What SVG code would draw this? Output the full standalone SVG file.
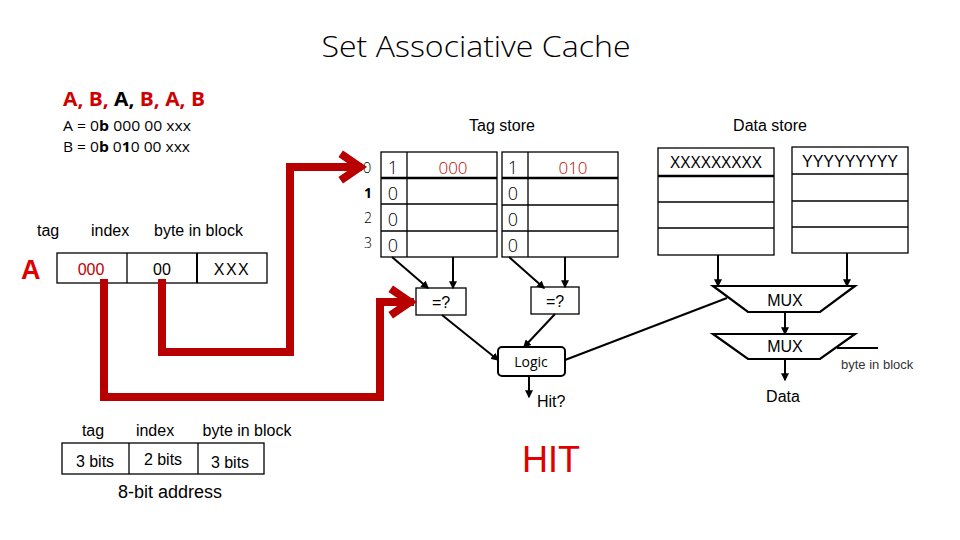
<svg xmlns="http://www.w3.org/2000/svg" width="960" height="540" viewBox="0 0 960 540">
<style>
.ar{font-family:"Liberation Sans",Arial,sans-serif}
.cb{font-family:"Open Sans","Noto Sans",sans-serif}
.box{fill:#fff;stroke:#000;stroke-width:1.3}
.ln{stroke:#000;stroke-width:1.3;fill:none}
.thk{stroke:#000;stroke-width:2.5}
.wire{stroke:#000;stroke-width:2;fill:none}
.red{stroke:#B80000;stroke-width:8;fill:none;stroke-linejoin:miter;stroke-linecap:square}
</style>
<defs>
<marker id="ah" viewBox="0 0 6 6" refX="5" refY="3" markerWidth="4" markerHeight="4" orient="auto">
<path d="M0,0 L6,3 L0,6 z" fill="#000"/>
</marker>
</defs>
<rect width="960" height="540" fill="#fff"/>

<g id="title">
<text x="476" y="57" text-anchor="middle" class="cb" font-size="30" font-weight="300" textLength="309" lengthAdjust="spacingAndGlyphs">Set Associative Cache</text>
</g>

<g id="sequence">
<text x="63" y="106" class="cb" font-size="19" font-weight="700" textLength="142" lengthAdjust="spacingAndGlyphs"><tspan fill="#D00000">A, B, </tspan><tspan fill="#000">A, </tspan><tspan fill="#D00000">B, A, B</tspan></text>
<text x="63" y="131" class="cb" font-size="14" textLength="128" lengthAdjust="spacingAndGlyphs">A = 0<tspan font-weight="700">b</tspan> 000 00 xxx</text>
<text x="63" y="152" class="cb" font-size="14" textLength="127" lengthAdjust="spacingAndGlyphs">B = 0<tspan font-weight="700">b</tspan> 0<tspan font-weight="700">1</tspan>0 00 xxx</text>
</g>

<g id="address-A">
<text x="37" y="236" class="ar" font-size="16">tag</text>
<text x="91" y="236" class="ar" font-size="16">index</text>
<text x="154" y="236" class="ar" font-size="16">byte in block</text>
<text x="21" y="279" class="ar" font-size="27" font-weight="700" fill="#E00000">A</text>
<rect x="57" y="253" width="210" height="30" class="box"/>
<line x1="127" y1="253" x2="127" y2="283" class="ln"/>
<line x1="197" y1="253" x2="197" y2="283" stroke="#000" stroke-width="2"/>
<text x="91" y="275" text-anchor="middle" class="ar" font-size="16" fill="#C00000">000</text>
<text x="162" y="275" text-anchor="middle" class="ar" font-size="16">00</text>
<text x="232" y="275" text-anchor="middle" class="ar" font-size="16" letter-spacing="1.5">XXX</text>
</g>

<g id="tag-store-label"><text x="502" y="131" text-anchor="middle" class="ar" font-size="16">Tag store</text></g>
<g id="data-store-label"><text x="770" y="131" text-anchor="middle" class="ar" font-size="16">Data store</text></g>

<g id="row-index">
<text x="367" y="173" text-anchor="middle" class="cb" font-size="15" font-weight="300">0</text>
<text x="368" y="198" text-anchor="middle" class="cb" font-size="14" font-weight="700">1</text>
<text x="368" y="223" text-anchor="middle" class="cb" font-size="14" font-weight="300">2</text>
<text x="368" y="248" text-anchor="middle" class="cb" font-size="14" font-weight="300">3</text>
</g>

<g id="tag-way0">
<rect x="381" y="152" width="116" height="105" class="box"/>
<line x1="407" y1="152" x2="407" y2="257" class="ln"/>
<line x1="381" y1="178" x2="497" y2="178" class="thk"/>
<line x1="381" y1="204" x2="497" y2="204" class="ln"/>
<line x1="381" y1="231" x2="497" y2="231" class="ln"/>
<text x="393" y="174" text-anchor="middle" class="cb" font-size="18" font-weight="300">1</text>
<text x="453" y="174" text-anchor="middle" class="cb" font-size="17" font-weight="300" fill="#C00000">000</text>
<text x="393" y="200" text-anchor="middle" class="cb" font-size="18" font-weight="300">0</text>
<text x="393" y="226" text-anchor="middle" class="cb" font-size="18" font-weight="300">0</text>
<text x="393" y="252" text-anchor="middle" class="cb" font-size="18" font-weight="300">0</text>
</g>

<g id="tag-way1">
<rect x="502" y="152" width="116" height="105" class="box"/>
<line x1="528" y1="152" x2="528" y2="257" class="ln"/>
<line x1="502" y1="178" x2="618" y2="178" class="thk"/>
<line x1="502" y1="205" x2="618" y2="205" class="ln"/>
<line x1="502" y1="231" x2="618" y2="231" class="ln"/>
<text x="513" y="174" text-anchor="middle" class="cb" font-size="18" font-weight="300">1</text>
<text x="573" y="174" text-anchor="middle" class="cb" font-size="17" font-weight="300" fill="#C00000">010</text>
<text x="513" y="200" text-anchor="middle" class="cb" font-size="18" font-weight="300">0</text>
<text x="513" y="226" text-anchor="middle" class="cb" font-size="18" font-weight="300">0</text>
<text x="513" y="252" text-anchor="middle" class="cb" font-size="18" font-weight="300">0</text>
</g>

<g id="data-way0">
<rect x="658" y="148" width="116" height="107" class="box"/>
<line x1="658" y1="176" x2="774" y2="176" class="thk"/>
<line x1="658" y1="202" x2="774" y2="202" class="ln"/>
<line x1="658" y1="228" x2="774" y2="228" class="ln"/>
<text x="716" y="168" text-anchor="middle" class="ar" font-size="16" textLength="92" lengthAdjust="spacingAndGlyphs">XXXXXXXXX</text>
</g>

<g id="data-way1">
<rect x="792" y="147" width="116" height="106" class="box"/>
<line x1="792" y1="174" x2="908" y2="174" class="ln"/>
<line x1="792" y1="201" x2="908" y2="201" class="ln"/>
<line x1="792" y1="227" x2="908" y2="227" class="ln"/>
<text x="850" y="167" text-anchor="middle" class="ar" font-size="16" textLength="96" lengthAdjust="spacingAndGlyphs">YYYYYYYYY</text>
</g>

<g id="cmp0">
<rect x="416" y="288" width="50" height="27" class="box"/>
<text x="441" y="308" text-anchor="middle" class="ar" font-size="16">=?</text>
</g>
<g id="cmp1">
<rect x="531" y="287" width="48" height="27" class="box"/>
<text x="555" y="307" text-anchor="middle" class="ar" font-size="16">=?</text>
</g>

<g id="logic">
<rect x="498" y="347" width="67" height="29" rx="4" fill="#fff" stroke="#000" stroke-width="2"/>
<text x="531" y="367" text-anchor="middle" class="cb" font-size="14">Logic</text>
</g>

<g id="hit-label"><text x="537" y="407" class="ar" font-size="16">Hit?</text></g>

<g id="mux1">
<polygon points="713,286 855,286 820,312 748,312" fill="#fff" stroke="#000" stroke-width="2.2"/>
<text x="785" y="306" text-anchor="middle" class="ar" font-size="16">MUX</text>
</g>
<g id="mux2">
<polygon points="713,334 855,334 820,359 748,359" fill="#fff" stroke="#000" stroke-width="2.2"/>
<text x="785" y="352" text-anchor="middle" class="ar" font-size="16">MUX</text>
</g>
<g id="byte-in-block-label"><text x="841" y="369" class="ar" font-size="13" fill="#333">byte in block</text></g>
<g id="data-out"><text x="783" y="402" text-anchor="middle" class="ar" font-size="16">Data</text></g>

<g id="HIT"><text x="551" y="472" text-anchor="middle" class="ar" font-size="36" fill="#E00000">HIT</text></g>

<g id="address-format">
<text x="93" y="436" text-anchor="middle" class="ar" font-size="16">tag</text>
<text x="155" y="436" text-anchor="middle" class="ar" font-size="16">index</text>
<text x="247" y="436" text-anchor="middle" class="ar" font-size="16">byte in block</text>
<rect x="62" y="443" width="202" height="31" class="box"/>
<line x1="129" y1="443" x2="129" y2="474" class="ln"/>
<line x1="198" y1="443" x2="198" y2="474" class="ln"/>
<text x="95" y="467" text-anchor="middle" class="ar" font-size="16">3 bits</text>
<text x="163" y="465" text-anchor="middle" class="ar" font-size="16">2 bits</text>
<text x="230" y="468" text-anchor="middle" class="ar" font-size="16">3 bits</text>
<text x="170" y="498" text-anchor="middle" class="ar" font-size="18">8-bit address</text>
</g>

<g id="connectors">
<line x1="392" y1="257" x2="428" y2="288" class="wire" marker-end="url(#ah)"/>
<line x1="453" y1="257" x2="453" y2="288" class="wire" marker-end="url(#ah)"/>
<line x1="509" y1="257" x2="544" y2="288" class="wire" marker-end="url(#ah)"/>
<line x1="565" y1="257" x2="565" y2="287" class="wire" marker-end="url(#ah)"/>
<line x1="442" y1="315" x2="498" y2="360" class="wire" marker-end="url(#ah)"/>
<line x1="555" y1="314" x2="524" y2="347" class="wire" marker-end="url(#ah)"/>
<line x1="529" y1="376" x2="529" y2="397" class="wire" marker-end="url(#ah)"/>
<line x1="565" y1="360" x2="727" y2="298" class="wire"/>
<line x1="718" y1="255" x2="718" y2="286" class="wire" marker-end="url(#ah)"/>
<line x1="847" y1="253" x2="847" y2="286" class="wire" marker-end="url(#ah)"/>
<line x1="785" y1="312" x2="785" y2="334" class="wire" marker-end="url(#ah)"/>
<line x1="837" y1="348" x2="878" y2="348" class="wire"/>
<line x1="785" y1="359" x2="785" y2="380" class="wire" marker-end="url(#ah)"/>
<path d="M162,283 V352 H290 V167 H358" class="red"/>
<path d="M344,156 L360,167 L344,178" class="red" stroke-linecap="butt"/>
<path d="M104,283 V397 H380 V302 H410" class="red"/>
<path d="M394,291 L410,302 L394,313" class="red" stroke-linecap="butt"/>
</g>
</svg>
